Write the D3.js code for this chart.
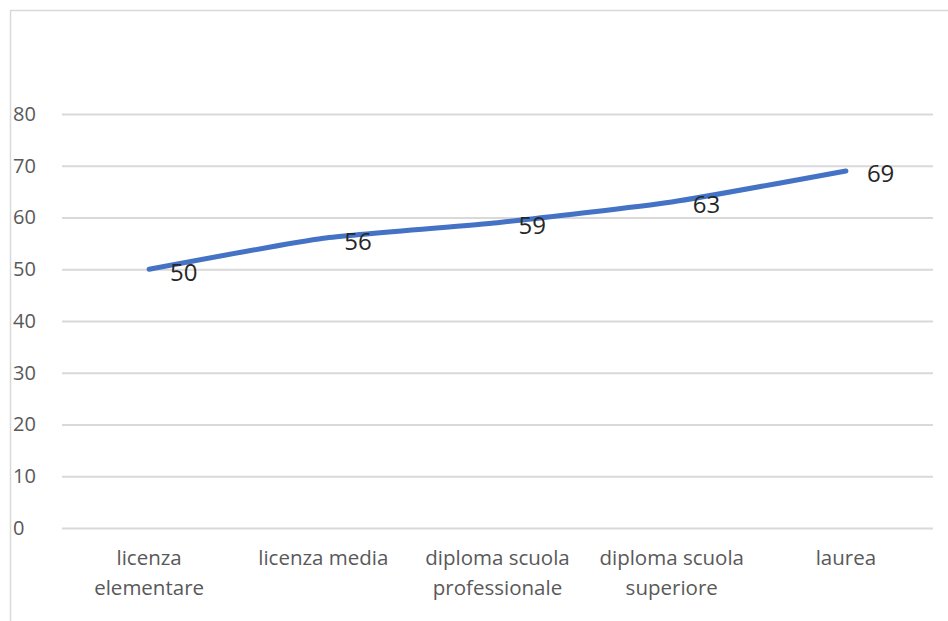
<!DOCTYPE html>
<html><head><meta charset="utf-8">
<script src="https://cdn.jsdelivr.net/npm/d3@7"></script>
<style>html,body{margin:0;padding:0;background:#fff;}svg{display:block;}</style>
</head><body>
<svg id="c" width="948" height="621"></svg>
<script>
const categories = [["licenza","elementare"],["licenza media"],["diploma scuola","professionale"],["diploma scuola","superiore"],["laurea"]];
const values = [50, 56, 59, 63, 69];
const yTicks = [0,10,20,30,40,50,60,70,80];

(function(){
const svg = d3.select("#c");
const W = 948, H = 621;
const mL = 62, mR = 933, mT = 114, mB = 528;
const font = "'Open Sans', Lato, sans-serif";

// chart border (left and top)
svg.append("line").attr("x1",10.5).attr("x2",10.5).attr("y1",10.5).attr("y2",H).attr("stroke","#d9d9d9").attr("stroke-width",1.5);
svg.append("line").attr("x1",10).attr("x2",W).attr("y1",10.5).attr("y2",10.5).attr("stroke","#d9d9d9").attr("stroke-width",1.5);

const x = d3.scaleBand().domain(d3.range(categories.length)).range([mL,mR]);
const y = d3.scaleLinear().domain([0,80]).range([mB,mT]);

const yAxis = svg.append("g").attr("transform",`translate(${mL},0)`)
  .call(d3.axisLeft(y).tickValues(yTicks).tickSize(-(mR-mL)).tickPadding(24));
yAxis.select(".domain").remove();
yAxis.selectAll(".tick line").attr("stroke","#d9d9d9").attr("stroke-width",2);
yAxis.selectAll(".tick text").attr("font-family",font).attr("font-size",20).attr("fill","#595959").attr("text-anchor","start").attr("x",-49);

const xAxis = svg.append("g").attr("transform",`translate(0,${mB})`)
  .call(d3.axisBottom(x).tickSize(0).tickFormat(""));
xAxis.select(".domain").remove();
xAxis.selectAll(".tick").each(function(d){
  const t = d3.select(this).append("text").attr("font-family",font).attr("font-size",20.5).attr("fill","#595959").attr("text-anchor","middle");
  categories[d].forEach((s,i)=>t.append("tspan").attr("x",0).attr("y",37+i*30).text(s));
});

const line = d3.line().x((d,i)=>x(i)+x.bandwidth()/2).y(d=>y(d)).curve(d3.curveCardinal.tension(0.5));
svg.append("path").datum(values).attr("d",line).attr("fill","none").attr("stroke","#4472C4").attr("stroke-width",5).attr("stroke-linecap","round").attr("stroke-linejoin","round");

svg.append("g").selectAll("text").data(values).join("text")
  .attr("x",(d,i)=>x(i)+x.bandwidth()/2+21).attr("y",d=>y(d)+3).attr("dy","0.35em")
  .attr("font-family",font).attr("font-size",24).attr("fill","#262626").text(d=>d);
})();
</script>
</body></html>
